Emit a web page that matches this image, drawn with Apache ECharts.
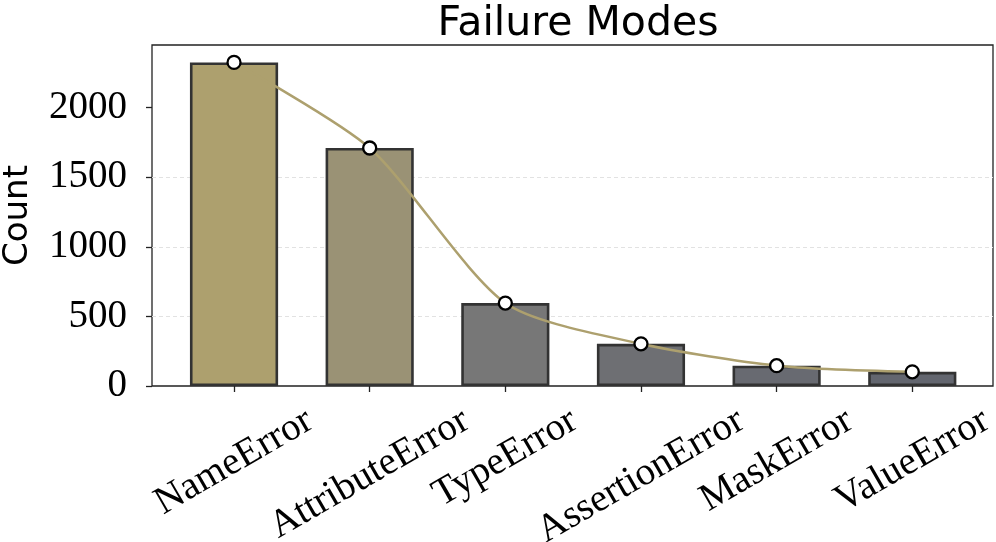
<!DOCTYPE html>
<html>
<head>
<meta charset="utf-8">
<script src="https://cdn.jsdelivr.net/npm/echarts@6/dist/echarts.min.js"></script>
<style>
  html, body { margin: 0; padding: 0; background: #fff; }
  #chart { width: 996px; height: 542px; }
</style>
</head>
<body>
<div id="chart"></div>
<script>
// ---- data ----
const categories = ['NameError', 'AttributeError', 'TypeError', 'AssertionError', 'MaskError', 'ValueError'];
const counts = [2325, 1710, 596, 303, 146, 102];
const yTickValues = [0, 500, 1000, 1500, 2000];
const yMax = 2450;

// ---- styles ----
const barPalette = ['#ADA06E', '#9A9275', '#777777', '#6E6F73', '#686A71', '#63666F'];
const lineColor = '#ADA06E';
const serif = '"Liberation Serif", "Times New Roman", serif';
const sans = '"DejaVu Sans", sans-serif';
const labelSize = 39;

// rotated x labels: centre-aligned like matplotlib (bbox top fixed below the axis).
// Each label is shifted straight down by e px using spacer tokens in rich text.
const ctx = document.createElement('canvas').getContext('2d');
ctx.font = labelSize + 'px ' + serif;
const ROT = 30 * Math.PI / 180;
const inkTop = 21;
const capH = 0.66 * labelSize;
const rich = { t: { fontFamily: serif, fontSize: labelSize, color: '#000', lineHeight: labelSize } };
categories.forEach(function (name, i) {
  const w = ctx.measureText(name).width;
  const e = inkTop + (w * Math.sin(ROT) + capH * Math.cos(ROT)) / 2;
  rich['v' + i] = { fontSize: 1, lineHeight: 2 * Math.cos(ROT) * e };
  rich['s' + i] = { fontSize: 1, width: 2 * Math.sin(ROT) * e };
});

const chart = echarts.init(document.getElementById('chart'), null, { renderer: 'canvas' });
chart.setOption({
  animation: false,
  backgroundColor: '#fff',
  title: {
    text: 'Failure Modes',
    left: 573,
    textAlign: 'center',
    top: -1,
    textStyle: { fontFamily: sans, fontSize: 41, fontWeight: 'normal', color: '#000' }
  },
  grid: [
    { left: 152, top: 45, width: 841, height: 341, show: true, borderColor: '#222', borderWidth: 1.3, backgroundColor: 'transparent', outerBoundsMode: 'none', containLabel: false },
    { left: 166.2, top: 45, width: 813.9, height: 341, show: false, outerBoundsMode: 'none', containLabel: false }
  ],
  xAxis: [
    { gridIndex: 0, type: 'value', min: 0, max: 1, show: false },
    {
      gridIndex: 1, type: 'category', data: categories, boundaryGap: true,
      axisLine: { show: false },
      axisTick: { show: true, alignWithLabel: true, length: 6, lineStyle: { color: '#222', width: 1.3 } },
      axisLabel: {
        interval: 0, rotate: 30, margin: 0, align: 'center', verticalAlign: 'middle',
        fontFamily: serif, fontSize: labelSize, color: '#000',
        formatter: function (v, i) { return '{v' + i + '| }\n{t|' + v + '}{s' + i + '| }'; },
        rich: rich
      }
    }
  ],
  yAxis: [
    {
      gridIndex: 0, type: 'value', min: 0, max: yMax, interval: 500,
      name: 'Count', nameLocation: 'middle', nameRotate: 90, nameGap: 117,
      nameTextStyle: { fontFamily: sans, fontSize: 34, color: '#000' },
      axisLine: { show: false },
      axisTick: { show: true, length: 6, customValues: yTickValues, lineStyle: { color: '#222', width: 1.3 } },
      axisLabel: { customValues: yTickValues, margin: 25, fontFamily: serif, fontSize: labelSize, color: '#000',
        formatter: function (v) { return String(v); } },
      splitLine: { show: true, showMinLine: false, showMaxLine: false, lineStyle: { color: '#e2e2e2', width: 1, type: [4, 3] } }
    },
    { gridIndex: 1, type: 'value', min: 0, max: yMax, show: false }
  ],
  series: [
    {
      type: 'bar', xAxisIndex: 1, yAxisIndex: 1, data: counts, barWidth: '65%',
      itemStyle: {
        color: function (p) { return barPalette[p.dataIndex]; },
        borderColor: '#333', borderWidth: 2.6
      },
      z: 2
    },
    {
      type: 'line', xAxisIndex: 1, yAxisIndex: 1, data: counts, smooth: 0.25,
      lineStyle: { color: lineColor, width: 2.5 },
      symbol: 'circle', symbolSize: 13,
      itemStyle: { color: '#fff', borderColor: '#000', borderWidth: 2.3 },
      z: 3
    }
  ]
});
</script>
</body>
</html>
